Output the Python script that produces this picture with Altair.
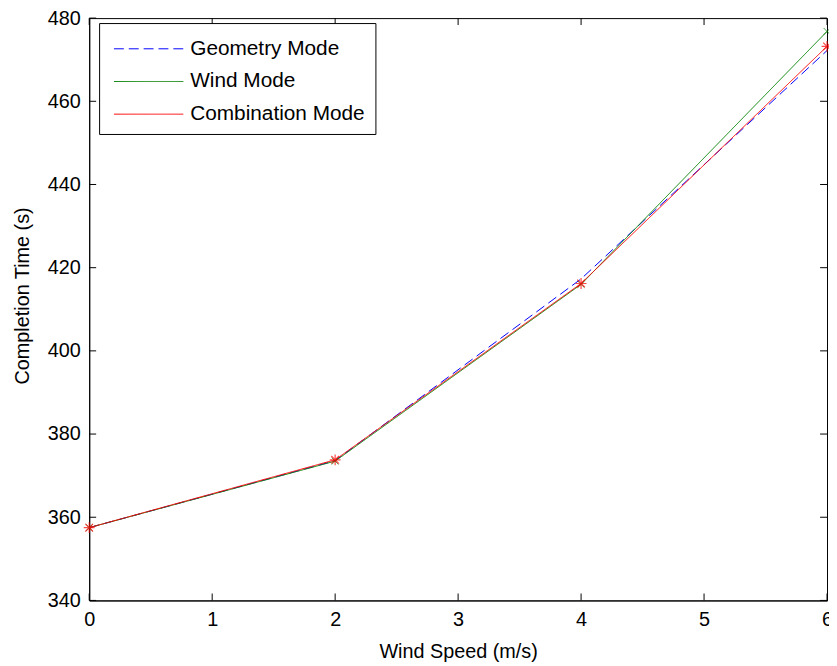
import altair as alt
import pandas as pd

# ---- data ----
wind_speed = [0, 2, 4, 6]
geometry_mode = [357.5, 373.6, 417.3, 472.2]
wind_mode = [357.5, 373.5, 416.0, 476.8]
combination_mode = [357.5, 373.8, 416.2, 473.2]
series_names = ["Geometry Mode", "Wind Mode", "Combination Mode"]
series_colors = ["#0000ff", "#008000", "#ff0000"]
x_ticks = [0, 1, 2, 3, 4, 5, 6]
y_ticks = [340, 360, 380, 400, 420, 440, 460, 480]

rows = []
for name, vals in zip(series_names, [geometry_mode, wind_mode, combination_mode]):
    for xv, yv in zip(wind_speed, vals):
        rows.append({"speed": xv, "time": yv, "mode": name})
df = pd.DataFrame(rows)
xt = pd.DataFrame({"speed": x_ticks})
yt = pd.DataFrame({"time": y_ticks})

W, H = 745, 588
FONT = "Liberation Sans"
xs = alt.Scale(domain=[0, 6], nice=False, zero=False)
ys = alt.Scale(domain=[340, 480], nice=False, zero=False)

legend = alt.Legend(
    title=None, orient="none", legendX=10, legendY=5,
    fillColor="white", strokeColor="black", padding=10,
    symbolType="M-2.26,0L2.26,0", symbolSize=961, symbolStrokeWidth=1,
    symbolOffset=24, labelOffset=26, rowPadding=7, labelLimit=0,
    labelFont=FONT, labelFontSize=21, labelColor="black",
    labelBaseline="middle",
)

color = alt.Color("mode:N", sort=series_names,
                  scale=alt.Scale(domain=series_names, range=series_colors),
                  legend=legend)
dash = alt.StrokeDash("mode:N", sort=series_names,
                      scale=alt.Scale(domain=series_names, range=[[10, 5], [1, 0], [1, 0]]),
                      legend=legend)

lines = alt.Chart(df).mark_line(strokeWidth=1).encode(
    x=alt.X("speed:Q", scale=xs,
            axis=alt.Axis(values=x_ticks, title="Wind Speed (m/s)", ticks=False, format="d",
                          labelFlush=False, grid=False, labelPadding=9, titleY=52,
                          titleBaseline="middle")),
    y=alt.Y("time:Q", scale=ys,
            axis=alt.Axis(values=y_ticks, title="Completion Time (s)", ticks=False, format="d",
                          labelFlush=False, grid=False, labelPadding=9, titleX=-67, titleY=280,
                          titleBaseline="middle")),
    color=color,
    strokeDash=dash,
)

x_marks = alt.Chart(df).transform_filter(alt.datum.mode == "Wind Mode").mark_point(
    shape="M-1,-1L1,1M-1,1L1,-1", filled=False, color="#008000", strokeWidth=1, size=49
).encode(
    x=alt.X("speed:Q", scale=xs),
    y=alt.Y("time:Q", scale=ys),
)

star_marks = alt.Chart(df).transform_filter(alt.datum.mode == "Combination Mode").mark_point(
    shape="M0,-1L0,1M-1,0L1,0M-0.7,-0.7L0.7,0.7M-0.7,0.7L0.7,-0.7",
    filled=False, color="#ff0000", strokeWidth=1.2, size=121
).encode(
    x=alt.X("speed:Q", scale=xs),
    y=alt.Y("time:Q", scale=ys),
)

TL = 7
ytick_left = alt.Chart(yt).mark_rule(color="black", strokeWidth=1).encode(
    y=alt.Y("time:Q", scale=ys), x=alt.value(0), x2=alt.value(TL))
ytick_right = alt.Chart(yt).mark_rule(color="black", strokeWidth=1).encode(
    y=alt.Y("time:Q", scale=ys), x=alt.value(W), x2=alt.value(W - TL))
xtick_bottom = alt.Chart(xt).mark_rule(color="black", strokeWidth=1).encode(
    x=alt.X("speed:Q", scale=xs), y=alt.value(H), y2=alt.value(H - TL))
xtick_top = alt.Chart(xt).mark_rule(color="black", strokeWidth=1).encode(
    x=alt.X("speed:Q", scale=xs), y=alt.value(0), y2=alt.value(TL))

chart = alt.layer(
    lines, x_marks, star_marks, ytick_left, ytick_right, xtick_bottom, xtick_top
).properties(
    width=W, height=H,
    autosize=alt.AutoSizeParams(type="none"),
    padding={"left": 82, "top": 7, "right": 2, "bottom": 63},
    background="white",
).configure_view(
    stroke="black", strokeWidth=1
).configure_axis(
    labelFont=FONT, labelFontSize=20, labelColor="black",
    titleFont=FONT, titleFontSize=20, titleFontWeight="normal", titleColor="black",
    domainColor="black", domainWidth=1,
)

chart.save("out.html", embed_options={"renderer": "svg", "actions": False})
